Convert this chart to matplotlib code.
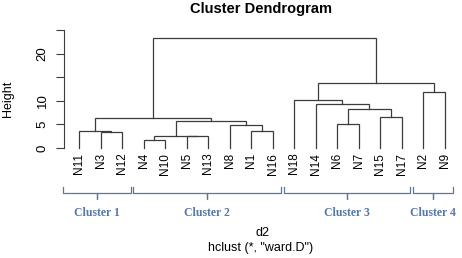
import matplotlib.pyplot as plt

plt.rcParams['font.family'] = ['Liberation Sans', 'DejaVu Sans']

#Data
leaves = ['N11', 'N3', 'N12', 'N4', 'N10', 'N5', 'N13', 'N8', 'N1', 'N16',
          'N18', 'N14', 'N6', 'N7', 'N15', 'N17', 'N2', 'N9']
# merges: (left, right, height); ints refer to earlier merges
merge_left = ['N3', 'N11', 'N4', 'N5', 2, 'N1', 'N8', 4, 1, 'N6', 'N15', 9, 'N14', 'N18', 'N2', 13, 8]
merge_right = ['N12', 0, 'N10', 'N13', 3, 'N16', 5, 6, 7, 'N7', 'N17', 10, 11, 12, 'N9', 14, 15]
merge_height = [3.4, 3.65, 1.6, 2.45, 2.6, 3.5, 4.9, 5.8, 6.35, 5.15, 6.5, 8.2, 9.3, 10.2, 11.9, 13.7, 23.2]
cluster_names = ['Cluster 1', 'Cluster 2', 'Cluster 3', 'Cluster 4']
cluster_sizes = [3, 7, 6, 2]
ytick_vals = [0, 5, 10, 15, 20, 25]
ytick_labels = ['0', '5', '10', '', '20', '']

W, H = 462, 258
fig = plt.figure(figsize=(W / 100, H / 100), dpi=100)

def fx(px):
    return px / W

def fy(py):
    return 1 - py / H

#Axes placed in pixel coords
ax = fig.add_axes([fx(64), fy(150), fx(460 - 64), (150 - 30) / H])
ax.set_xlim(0.3, 18.72)
ax.set_ylim(-0.42, 25)

line_col = '#3c3c3c'
pos = {name: i + 1 for i, name in enumerate(leaves)}
node_x, node_h = [], []

def get(node):
    if isinstance(node, int):
        return node_x[node], node_h[node]
    return pos[node], 0.0

for l, r, h in zip(merge_left, merge_right, merge_height):
    xl, hl = get(l)
    xr, hr = get(r)
    ax.plot([xl, xl, xr, xr], [hl, h, h, hr], color=line_col, lw=0.9, solid_joinstyle='miter')
    node_x.append((xl + xr) / 2)
    node_h.append(h)

for s in ['top', 'right', 'bottom']:
    ax.spines[s].set_visible(False)
ax.spines['left'].set_bounds(0, 25)
ax.spines['left'].set_color(line_col)
ax.set_xticks([])
ax.set_yticks(ytick_vals)
ax.set_yticklabels(ytick_labels, rotation=90, va='center', fontsize=9.5)
ax.tick_params(axis='y', length=6, width=0.8, color=line_col, pad=5)

#Leaf labels
for name, x in pos.items():
    ax.text(x, -1.0, name, rotation=90, ha='center', va='top', fontsize=8.5)

#Titles
fig.text(fx(261), fy(9), 'Cluster Dendrogram', ha='center', va='center', fontsize=10.5, fontweight='bold')
fig.text(fx(8), fy(99), 'Height', rotation=90, ha='center', va='center', fontsize=9)
fig.text(fx(262), fy(233), 'd2', ha='center', va='center', fontsize=9)
fig.text(fx(261), fy(248), 'hclust (*, "ward.D")', ha='center', va='center', fontsize=9)

#Cluster brackets
blue = '#5577aa'
start = 0
for k, (name, n) in enumerate(zip(cluster_names, cluster_sizes)):
    x0 = start + 1 - (0.75 if k == 0 else 0.48)
    x1 = start + n + 0.4
    p0 = ax.transData.transform((x0, 0))[0] / W
    p1 = ax.transData.transform((x1, 0))[0] / W
    pm = (p0 + p1) / 2
    fig.add_artist(plt.Line2D([p0, p0, pm, pm, pm, p1, p1],
                              [fy(187), fy(193), fy(193), fy(199), fy(193), fy(193), fy(187)],
                              color=blue, lw=0.9))
    fig.text(pm, fy(213), name, ha='center', va='center', fontsize=8.5, fontweight='bold',
             color=blue, family='Liberation Serif')
    start += n

fig.savefig('out.png', dpi=100)
